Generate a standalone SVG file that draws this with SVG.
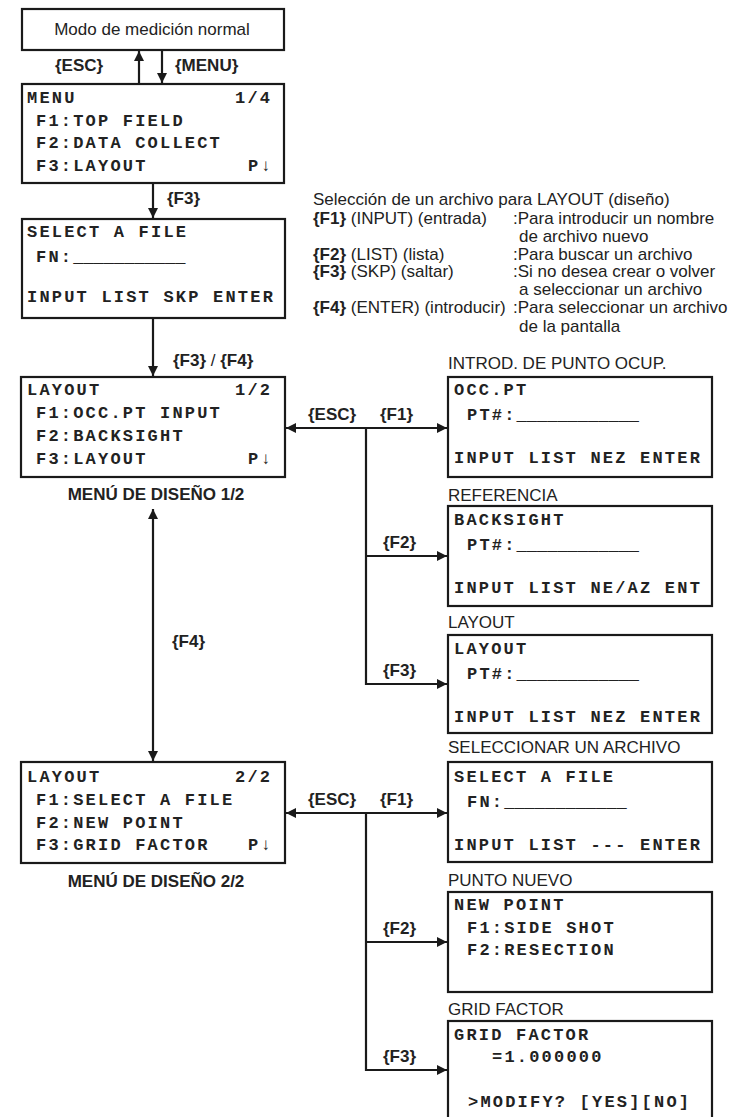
<svg xmlns="http://www.w3.org/2000/svg" width="753" height="1117" viewBox="0 0 753 1117">
<style>
.box{fill:#fff;stroke:#1a1a1a;stroke-width:2.2}
.ln{fill:none;stroke:#1a1a1a;stroke-width:2.2}
.m{font-family:"Courier New","Liberation Mono",monospace;font-weight:bold;font-size:17px;letter-spacing:2.2px;fill:#222}
.u{letter-spacing:0px}
.s{font-family:"Liberation Sans",Arial,sans-serif;font-size:17px;fill:#222}
.b{font-family:"Liberation Sans",Arial,sans-serif;font-size:17px;font-weight:bold;fill:#222}
</style>
<defs>
<marker id="ah" viewBox="0 0 10 10" refX="10" refY="5" markerWidth="10" markerHeight="10" orient="auto-start-reverse" markerUnits="userSpaceOnUse">
<path d="M0,0 L10,5 L0,10 z" fill="#1a1a1a"/>
</marker>
</defs>

<g id="connectors">
<line class="ln" x1="139" y1="84" x2="139" y2="51" marker-end="url(#ah)"/>
<line class="ln" x1="162" y1="50" x2="162" y2="83" marker-end="url(#ah)"/>
<line class="ln" x1="153" y1="183" x2="153" y2="218" marker-end="url(#ah)"/>
<line class="ln" x1="153" y1="318" x2="153" y2="376" marker-end="url(#ah)"/>
<line class="ln" x1="286" y1="428" x2="447" y2="428" marker-start="url(#ah)" marker-end="url(#ah)"/>
<line class="ln" x1="366" y1="428" x2="366" y2="685"/>
<line class="ln" x1="365" y1="556" x2="447" y2="556" marker-end="url(#ah)"/>
<line class="ln" x1="365" y1="684" x2="447" y2="684" marker-end="url(#ah)"/>
<line class="ln" x1="153" y1="509" x2="153" y2="761" marker-start="url(#ah)" marker-end="url(#ah)"/>
<line class="ln" x1="286" y1="813" x2="447" y2="813" marker-start="url(#ah)" marker-end="url(#ah)"/>
<line class="ln" x1="366" y1="813" x2="366" y2="1071"/>
<line class="ln" x1="365" y1="942" x2="447" y2="942" marker-end="url(#ah)"/>
<line class="ln" x1="365" y1="1070" x2="447" y2="1070" marker-end="url(#ah)"/>
<text class="b" x="55" y="71">{ESC}</text>
<text class="b" x="175" y="71">{MENU}</text>
<text class="b" x="167" y="204">{F3}</text>
<text class="s" x="173" y="366"><tspan class="b">{F3}</tspan> / <tspan class="b">{F4}</tspan></text>
<text class="b" x="308" y="420">{ESC}</text>
<text class="b" x="380" y="420">{F1}</text>
<text class="b" x="383" y="548">{F2}</text>
<text class="b" x="383" y="676">{F3}</text>
<text class="b" x="172" y="647">{F4}</text>
<text class="b" x="308" y="805">{ESC}</text>
<text class="b" x="380" y="805">{F1}</text>
<text class="b" x="383" y="934">{F2}</text>
<text class="b" x="383" y="1062">{F3}</text>
</g>

<g id="node-normal">
<rect class="box" x="22" y="9" width="262" height="41"/>
<text class="s" x="152" y="35" text-anchor="middle">Modo de medición normal</text>
</g>

<g id="node-menu">
<rect class="box" x="22" y="84" width="262" height="99"/>
<text class="m" x="27" y="103">MENU</text>
<text class="m" x="235" y="103">1/4</text>
<text class="m" x="36" y="126">F1:TOP FIELD</text>
<text class="m" x="36" y="148">F2:DATA COLLECT</text>
<text class="m" x="36" y="171">F3:LAYOUT</text>
<text class="m" x="248" y="171">P↓</text>
</g>

<g id="node-select-file">
<rect class="box" x="22" y="219" width="263" height="99"/>
<text class="m" x="27" y="237">SELECT A FILE</text>
<text class="m" x="36" y="262">FN:<tspan class="u">___________</tspan></text>
<text class="m" x="27" y="302">INPUT LIST SKP ENTER</text>
</g>

<g id="node-description">
<text class="s" x="313" y="205">Selección de un archivo para LAYOUT (diseño)</text>
<text class="s" x="313" y="224"><tspan class="b">{F1}</tspan> (INPUT) (entrada)</text>
<text class="s" x="513" y="224">:Para introducir un nombre</text>
<text class="s" x="519" y="242">de archivo nuevo</text>
<text class="s" x="313" y="260"><tspan class="b">{F2}</tspan> (LIST) (lista)</text>
<text class="s" x="513" y="260">:Para buscar un archivo</text>
<text class="s" x="313" y="277"><tspan class="b">{F3}</tspan> (SKP) (saltar)</text>
<text class="s" x="513" y="277">:Si no desea crear o volver</text>
<text class="s" x="519" y="295">a seleccionar un archivo</text>
<text class="s" x="313" y="313"><tspan class="b">{F4}</tspan> (ENTER) (introducir)</text>
<text class="s" x="513" y="313">:Para seleccionar un archivo</text>
<text class="s" x="519" y="332">de la pantalla</text>
</g>

<g id="node-layout1">
<rect class="box" x="21" y="377" width="264" height="100"/>
<text class="m" x="27" y="395">LAYOUT</text>
<text class="m" x="235" y="395">1/2</text>
<text class="m" x="36" y="418">F1:OCC.PT INPUT</text>
<text class="m" x="36" y="441">F2:BACKSIGHT</text>
<text class="m" x="36" y="464">F3:LAYOUT</text>
<text class="m" x="248" y="464">P↓</text>
<text class="b" x="156" y="500" text-anchor="middle">MENÚ DE DISEÑO 1/2</text>
</g>

<g id="node-occpt">
<text class="s" x="448" y="369">INTROD. DE PUNTO OCUP.</text>
<rect class="box" x="448" y="377" width="264" height="100"/>
<text class="m" x="454" y="395">OCC.PT</text>
<text class="m" x="467" y="420">PT#:<tspan class="u">____________</tspan></text>
<text class="m" x="454" y="463">INPUT LIST NEZ ENTER</text>
</g>

<g id="node-backsight">
<text class="s" x="448" y="501">REFERENCIA</text>
<rect class="box" x="448" y="506" width="264" height="100"/>
<text class="m" x="454" y="525">BACKSIGHT</text>
<text class="m" x="467" y="550">PT#:<tspan class="u">____________</tspan></text>
<text class="m" x="454" y="593">INPUT LIST NE/AZ ENT</text>
</g>

<g id="node-layout-pt">
<text class="s" x="448" y="628">LAYOUT</text>
<rect class="box" x="448" y="635" width="264" height="98"/>
<text class="m" x="454" y="654">LAYOUT</text>
<text class="m" x="467" y="679">PT#:<tspan class="u">____________</tspan></text>
<text class="m" x="454" y="722">INPUT LIST NEZ ENTER</text>
</g>

<g id="node-layout2">
<rect class="box" x="21" y="762" width="264" height="101"/>
<text class="m" x="27" y="782">LAYOUT</text>
<text class="m" x="235" y="782">2/2</text>
<text class="m" x="36" y="805">F1:SELECT A FILE</text>
<text class="m" x="36" y="828">F2:NEW POINT</text>
<text class="m" x="36" y="850">F3:GRID FACTOR</text>
<text class="m" x="248" y="850">P↓</text>
<text class="b" x="156" y="887" text-anchor="middle">MENÚ DE DISEÑO 2/2</text>
</g>

<g id="node-select-file2">
<text class="s" x="448" y="753">SELECCIONAR UN ARCHIVO</text>
<rect class="box" x="448" y="762" width="264" height="100"/>
<text class="m" x="454" y="782">SELECT A FILE</text>
<text class="m" x="467" y="807">FN:<tspan class="u">____________</tspan></text>
<text class="m" x="454" y="850">INPUT LIST --- ENTER</text>
</g>

<g id="node-new-point">
<text class="s" x="448" y="886">PUNTO NUEVO</text>
<rect class="box" x="448" y="892" width="264" height="100"/>
<text class="m" x="454" y="910">NEW POINT</text>
<text class="m" x="467" y="933">F1:SIDE SHOT</text>
<text class="m" x="467" y="955">F2:RESECTION</text>
</g>

<g id="node-grid-factor">
<text class="s" x="448" y="1015">GRID FACTOR</text>
<rect class="box" x="448" y="1021" width="264" height="110"/>
<text class="m" x="454" y="1040">GRID FACTOR</text>
<text class="m" x="492" y="1062">=1.000000</text>
<text class="m" x="468" y="1107">&gt;MODIFY? [YES][NO]</text>
</g>
</svg>
